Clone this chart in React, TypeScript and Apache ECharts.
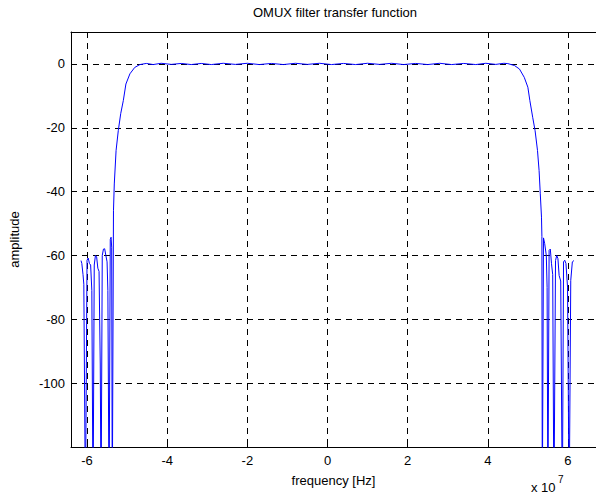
import React, { useEffect, useRef } from "react";
import * as echarts from "echarts";

// Frequency axis in units of 1e7 Hz
const freqTicks = [-6, -4, -2, 0, 2, 4, 6];
const ampTicks = [-100, -80, -60, -40, -20, 0];

// Left stopband (deep nulls drop below the visible range)
const freqLeftStop = [
  -6.15, -6.13, -6.1, -6.08, -6.04, -6.0, -5.97, -5.94, -5.91, -5.88, -5.85,
  -5.82, -5.79, -5.76, -5.73, -5.7, -5.67, -5.65, -5.62, -5.59, -5.56, -5.53,
  -5.5, -5.48, -5.45, -5.42, -5.4, -5.385, -5.37,
];
const ampLeftStop = [
  -61.6, -62.5, -66, -69, -140, -61.5, -60.8, -62.5, -63, -71, -140,
  -63, -60, -60.5, -64, -65, -94, -140, -60, -58, -57.9, -60,
  -62, -71, -140, -55, -54.3, -57.4, -140,
];

// Lower transition band
const freqLeftEdge = [-5.34, -5.32, -5.275, -5.22, -5.16, -5.095, -5.03, -4.93, -4.81, -4.68, -4.52];
const ampLeftEdge = [-46, -37.6, -27.1, -20.9, -15.6, -11.5, -6.3, -3.1, -1.1, -0.2, 0.15];

// Passband ripple
const freqPass = [
  -4.35, -4.15, -3.9, -3.65, -3.4, -3.15, -2.9, -2.6, -2.3, -2.0, -1.7, -1.4,
  -1.1, -0.8, -0.5, -0.2, 0.1, 0.4, 0.7, 1.0, 1.3, 1.6, 1.9, 2.2, 2.5, 2.8,
  3.1, 3.4, 3.7, 3.95, 4.2, 4.4, 4.5,
];
const ampPass = [
  -0.2, 0.2, -0.15, 0.15, -0.2, 0.15, -0.2, 0.2, -0.15, 0.2, -0.2, 0.15,
  -0.2, 0.2, -0.15, 0.2, -0.2, 0.15, -0.2, 0.2, -0.15, 0.2, -0.2, 0.15,
  -0.2, 0.2, -0.2, 0.15, -0.2, 0.2, -0.15, 0.2, 0.1,
];

// Upper transition band
const freqRightEdge = [4.665, 4.79, 4.91, 5.0, 5.05, 5.12, 5.18, 5.24, 5.28, 5.31, 5.34, 5.35];
const ampRightEdge = [-0.5, -1.6, -4.2, -7.3, -11.5, -16.7, -20.9, -27.1, -33.4, -40.7, -48, -54];

// Right stopband
const freqRightStop = [
  5.36, 5.39, 5.42, 5.46, 5.48, 5.5, 5.53, 5.56, 5.59, 5.62, 5.65, 5.69,
  5.72, 5.75, 5.78, 5.82, 5.86, 5.89, 5.92, 5.95, 5.99, 6.03, 6.07, 6.11, 6.15,
];
const ampRightStop = [
  -140, -54.5, -56.3, -60, -70, -140, -58.4, -58, -62.6, -66, -140, -61.6,
  -60, -61, -66.3, -68, -140, -62, -61.5, -62.5, -69.9, -140, -67.8, -62, -61.6,
];

const freq = [...freqLeftStop, ...freqLeftEdge, ...freqPass, ...freqRightEdge, ...freqRightStop];
const amp = [...ampLeftStop, ...ampLeftEdge, ...ampPass, ...ampRightEdge, ...ampRightStop];

const FONT = "'Liberation Sans', Arial, sans-serif";
const FS = 13;

export default function App() {
  const ref = useRef<HTMLDivElement>(null);

  useEffect(() => {
    if (!ref.current) return;
    const chart = echarts.init(ref.current, undefined, { renderer: "svg" });
    const gridLine = { show: true, lineStyle: { color: "#000", width: 1, type: [6, 5] as any } };
    const axisLine = { show: true, onZero: false, lineStyle: { color: "#000", width: 1 } };
    const tickStyle = { color: "#000", width: 1 };
    chart.setOption({
      animation: false,
      backgroundColor: "#fff",
      title: {
        text: "OMUX filter transfer function",
        left: 330,
        top: 1,
        textAlign: "center",
        textStyle: { fontFamily: FONT, fontSize: FS, fontWeight: "normal", color: "#000" },
      },
      grid: { left: 71, top: 32, right: -5, bottom: 51, containLabel: false },
      xAxis: [
        {
          type: "value",
          min: -6.4,
          max: 6.7,
          position: "bottom",
          axisLine,
          axisTick: { show: true, inside: true, length: 5, customValues: freqTicks, lineStyle: tickStyle },
          axisLabel: {
            customValues: freqTicks,
            margin: 7,
            fontFamily: FONT,
            fontSize: FS,
            color: "#000",
          },
          splitLine: gridLine,
          name: "frequency [Hz]",
          nameLocation: "middle",
          nameGap: 27,
          nameTextStyle: { fontFamily: FONT, fontSize: FS, color: "#000" },
        },
        {
          type: "value",
          min: -6.4,
          max: 6.7,
          position: "top",
          axisLine,
          axisTick: { show: true, inside: true, length: 5, customValues: freqTicks, lineStyle: tickStyle },
          axisLabel: { show: false },
          splitLine: { show: false },
        },
      ],
      yAxis: {
        type: "value",
        min: -120,
        max: 10,
        axisLine,
        axisTick: { show: true, inside: true, length: 5, customValues: ampTicks, lineStyle: tickStyle },
        axisLabel: {
          customValues: ampTicks,
          margin: 6,
          fontFamily: FONT,
          fontSize: FS,
          color: "#000",
        },
        splitLine: gridLine,
        name: "amplitude",
        nameLocation: "middle",
        nameGap: 50,
        nameTextStyle: { fontFamily: FONT, fontSize: FS, color: "#000" },
      },
      graphic: [
        {
          type: "text",
          left: 531,
          top: 481,
          style: { text: "x 10", font: `${FS}px ${FONT}`, fill: "#000" },
        },
        {
          type: "text",
          left: 558,
          top: 474,
          style: { text: "7", font: `10px ${FONT}`, fill: "#000" },
        },
      ],
      series: [
        {
          type: "line",
          xAxisIndex: 0,
          data: freq.map((f, i) => [f, amp[i]]),
          showSymbol: false,
          symbol: "none",
          clip: true,
          lineStyle: { color: "#0000ff", width: 1 },
        },
      ],
    });
    return () => chart.dispose();
  }, []);

  return (
    <div
      ref={ref}
      style={{ position: "fixed", left: 0, top: 0, width: 596, height: 498, overflow: "hidden" }}
    />
  );
}
